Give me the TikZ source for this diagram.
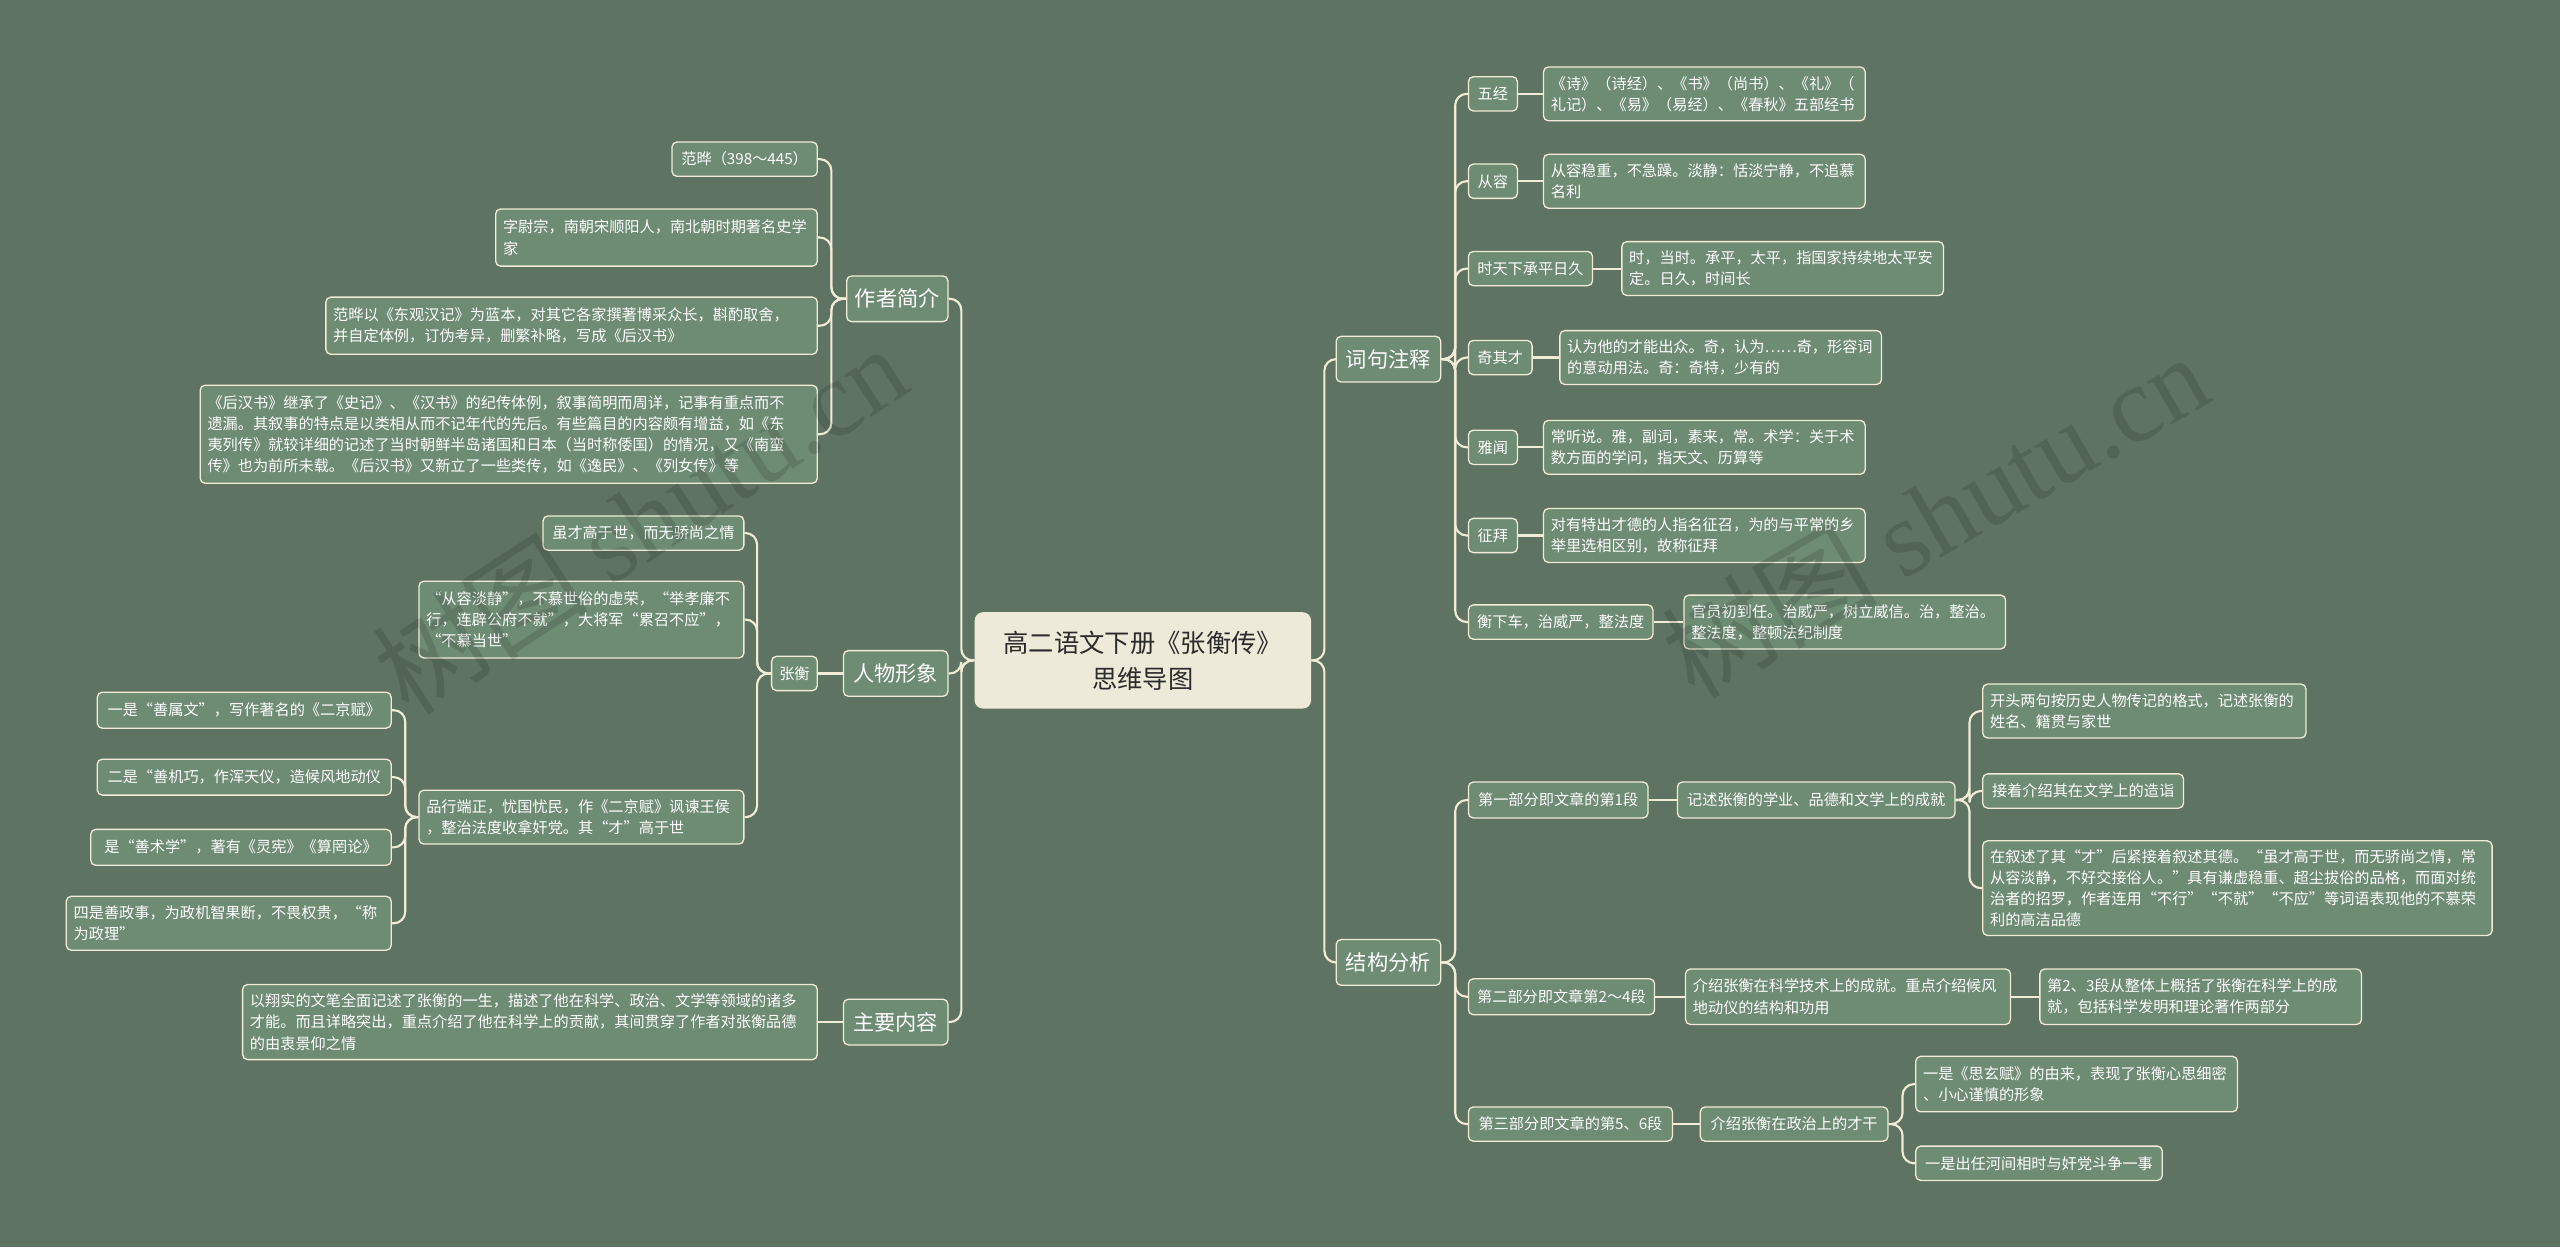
\documentclass[tikz,border=0pt]{standalone}
\usepackage{fontspec}
\setmainfont{Noto Sans CJK SC}
\newfontfamily\wmfont{Liberation Serif}
\definecolor{bgC}{HTML}{5F7363}
\definecolor{nodeC}{HTML}{6E8B73}
\definecolor{lineC}{HTML}{F0ECD8}
\definecolor{rootC}{HTML}{EEEADA}
\definecolor{rootT}{HTML}{2B2B2B}
\tikzset{
  box/.style={draw=lineC, fill=nodeC, line width=0.8pt, rounded corners=3pt, text=white,
    align=left, inner xsep=4.5pt, inner ysep=2pt, font=\fontsize{9.3}{13}\selectfont},
  sbox/.style={box, align=center},
  big/.style={box, align=center, font=\fontsize{13}{16}\selectfont, minimum height=28pt},
  rootbox/.style={fill=rootC, draw=none, rounded corners=5pt, text=rootT, align=center,
    font=\fontsize{15.5}{22}\selectfont, minimum width=206pt, minimum height=59pt},
  conn/.style={draw=lineC, line width=1.3pt, rounded corners=7pt},
  wm/.style={text=black, opacity=0.13, font=\fontsize{66}{70}\selectfont}
}
\begin{document}
\begin{tikzpicture}[x=1pt,y=1pt]
\fill[bgC] (0,0) rectangle (1568,764);
\useasboundingbox (0,0) rectangle (1568,764);

% root
\node[rootbox] (root) at (700,359.5) {高二语文下册《张衡传》\\思维导图};

% level 1
\node[big, anchor=east, minimum width=62pt] (zz) at (581,581) {作者简介};
\node[big, anchor=east, minimum width=64pt] (rw) at (581,351.5) {人物形象};
\node[big, anchor=east, minimum width=64pt] (zy) at (581,138) {主要内容};
\node[big, anchor=west, minimum width=64pt] (cj) at (818,544) {词句注释};
\node[big, anchor=west, minimum width=64pt] (jg) at (818,174.5) {结构分析};

% author
\node[sbox, anchor=east, minimum width=89pt, minimum height=21pt] (a1) at (501,666.5) {范晔（398～445）};
\node[box, anchor=east, text width=188pt, minimum height=35pt] (a2) at (501,618.5) {字尉宗，南朝宋顺阳人，南北朝时期著名史学\\家};
\node[box, anchor=east, text width=292pt, minimum height=35pt] (a3) at (501,564.5) {范晔以《东观汉记》为蓝本，对其它各家撰著博采众长，斟酌取舍，\\并自定体例，订伪考异，删繁补略，写成《后汉书》};
\node[box, anchor=east, text width=369pt, minimum height=60pt] (a4) at (501,498) {《后汉书》继承了《史记》、《汉书》的纪传体例，叙事简明而周详，记事有重点而不\\遗漏。其叙事的特点是以类相从而不记年代的先后。有些篇目的内容颇有增益，如《东\\夷列传》就较详细的记述了当时朝鲜半岛诸国和日本（当时称倭国）的情况，又《南蛮\\传》也为前所未载。《后汉书》又新立了一些类传，如《逸民》、《列女传》等};

% character
\node[sbox, anchor=east, minimum width=28pt, minimum height=21pt] (zh) at (501,351.5) {张衡};
\node[sbox, anchor=east, minimum width=123pt, minimum height=21pt] (z1) at (456,437.5) {虽才高于世，而无骄尚之情};
\node[box, anchor=east, text width=190pt, minimum height=47pt] (z2) at (456,384.5) {“从容淡静”，不慕世俗的虚荣，“举孝廉不\\行，连辟公府不就”，大将军“累召不应”，\\“不慕当世”};
\node[box, anchor=east, text width=190pt, minimum height=33pt] (z3) at (456,263.5) {品行端正，忧国忧民，作《二京赋》讽谏王侯\\，整治法度收拿奸党。其“才”高于世};
\node[sbox, anchor=east, minimum width=180pt, minimum height=22pt] (p1) at (240,329) {一是“善属文”，写作著名的《二京赋》};
\node[sbox, anchor=east, minimum width=180pt, minimum height=22pt] (p2) at (240,288) {二是“善机巧，作浑天仪，造候风地动仪};
\node[sbox, anchor=east, minimum width=184pt, minimum height=22pt] (p3) at (240,245) {是“善术学”，著有《灵宪》《算罔论》};
\node[box, anchor=east, text width=190pt, minimum height=33pt] (p4) at (240,198.5) {四是善政事，为政机智果断，不畏权贵，“称\\为政理”};

% main content
\node[box, anchor=east, text width=343pt, minimum height=46pt] (m1) at (501,138) {以翔实的文笔全面记述了张衡的一生，描述了他在科学、政治、文学等领域的诸多\\才能。而且详略突出，重点介绍了他在科学上的贡献，其间贯穿了作者对张衡品德\\的由衷景仰之情};

% notes
\node[sbox, anchor=west, minimum width=30pt, minimum height=21pt] (w1) at (899,706.5) {五经};
\node[box, anchor=west, text width=188pt, minimum height=33pt] (l1) at (945,706.5) {《诗》（诗经）、《书》（尚书）、《礼》（\\礼记）、《易》（易经）、《春秋》五部经书};
\node[sbox, anchor=west, minimum width=30pt, minimum height=21pt] (w2) at (899,653) {从容};
\node[box, anchor=west, text width=188pt, minimum height=33pt] (l2) at (945,653) {从容稳重，不急躁。淡静：恬淡宁静，不追慕\\名利};
\node[sbox, anchor=west, minimum width=76pt, minimum height=21pt] (w3) at (899,599.5) {时天下承平日久};
\node[box, anchor=west, text width=188pt, minimum height=33pt] (l3) at (993,599.5) {时，当时。承平，太平，指国家持续地太平安\\定。日久，时间长};
\node[sbox, anchor=west, minimum width=39pt, minimum height=21pt] (w4) at (899,545) {奇其才};
\node[box, anchor=west, text width=188pt, minimum height=33pt] (l4) at (955,545) {认为他的才能出众。奇，认为……奇，形容词\\的意动用法。奇：奇特，少有的};
\node[sbox, anchor=west, minimum width=30pt, minimum height=21pt] (w5) at (899,490) {雅闻};
\node[box, anchor=west, text width=188pt, minimum height=33pt] (l5) at (945,490) {常听说。雅，副词，素来，常。术学：关于术\\数方面的学问，指天文、历算等};
\node[sbox, anchor=west, minimum width=30pt, minimum height=21pt] (w6) at (899,436) {征拜};
\node[box, anchor=west, text width=188pt, minimum height=33pt] (l6) at (945,436) {对有特出才德的人指名征召，为的与平常的乡\\举里选相区别，故称征拜};
\node[sbox, anchor=west, minimum width=113pt, minimum height=21pt] (w7) at (899,383) {衡下车，治威严，整法度};
\node[box, anchor=west, text width=188pt, minimum height=33pt] (l7) at (1031,383) {官员初到任。治威严，树立威信。治，整治。\\整法度，整顿法纪制度};

% structure
\node[sbox, anchor=west, minimum width=110pt, minimum height=22pt] (s1) at (899,274) {第一部分即文章的第1段};
\node[sbox, anchor=west, minimum width=170pt, minimum height=22pt] (s1a) at (1027,274) {记述张衡的学业、品德和文学上的成就};
\node[box, anchor=west, text width=189pt, minimum height=33pt] (t1) at (1214,328.5) {开头两句按历史人物传记的格式，记述张衡的\\姓名、籍贯与家世};
\node[sbox, anchor=west, minimum width=123pt, minimum height=21pt] (t2) at (1214,279.5) {接着介绍其在文学上的造诣};
\node[box, anchor=west, text width=303pt, minimum height=58pt] (t3) at (1214,220) {在叙述了其“才”后紧接着叙述其德。“虽才高于世，而无骄尚之情，常\\从容淡静，不好交接俗人。”具有谦虚稳重、超尘拔俗的品格，而面对统\\治者的招罗，作者连用“不行”“不就”“不应”等词语表现他的不慕荣\\利的高洁品德};
\node[sbox, anchor=west, minimum width=114pt, minimum height=22pt] (s2) at (899,153.5) {第二部分即文章第2～4段};
\node[box, anchor=west, text width=190pt, minimum height=34pt] (s2a) at (1032,153.5) {介绍张衡在科学技术上的成就。重点介绍候风\\地动仪的结构和功用};
\node[box, anchor=west, text width=188pt, minimum height=34pt] (s2b) at (1249,153.5) {第2、3段从整体上概括了张衡在科学上的成\\就，包括科学发明和理论著作两部分};
\node[sbox, anchor=west, minimum width=125pt, minimum height=21pt] (s3) at (899,75.5) {第三部分即文章的第5、6段};
\node[sbox, anchor=west, minimum width=115pt, minimum height=21pt] (s3a) at (1041,75.5) {介绍张衡在政治上的才干};
\node[box, anchor=west, text width=188pt, minimum height=34pt] (u1) at (1173,100) {一是《思玄赋》的由来，表现了张衡心思细密\\、小心谨慎的形象};
\node[sbox, anchor=west, minimum width=151pt, minimum height=21pt] (u2) at (1173,51.5) {一是出任河间相时与奸党斗争一事};

% connectors
\foreach \c in {zz,rw,zy} \draw[conn] (root.west) -- ++(-8,0) |- (\c.east);
\foreach \c in {cj,jg} \draw[conn] (root.east) -- ++(8,0) |- (\c.west);
\foreach \c in {a1,a2,a3,a4} \draw[conn] (zz.west) -- ++(-9,0) |- (\c.east);
\draw[conn] (rw.west) -- (rw.west -| zh.east);
\foreach \c in {z1,z2,z3} \draw[conn] (zh.west) -- ++(-8.5,0) |- (\c.east);
\foreach \c in {p1,p2,p3,p4} \draw[conn] (z3.west) -- ++(-8,0) |- (\c.east);
\draw[conn] (zy.west) -- (zy.west -| m1.east);
\foreach \c in {w1,w2,w3,w4,w5,w6,w7} \draw[conn] (cj.east) -- ++(8.5,0) |- (\c.west);
\foreach \i in {1,...,7} \draw[conn] (w\i.east) -- (w\i.east -| l\i.west);
\foreach \c in {s1,s2,s3} \draw[conn] (jg.east) -- ++(8.5,0) |- (\c.west);
\draw[conn] (s1.east) -- (s1.east -| s1a.west);
\foreach \c in {t1,t2,t3} \draw[conn] (s1a.east) -- ++(8.5,0) |- (\c.west);
\draw[conn] (s2.east) -- (s2.east -| s2a.west);
\draw[conn] (s2a.east) -- (s2a.east -| s2b.west);
\draw[conn] (s3.east) -- (s3.east -| s3a.west);
\foreach \c in {u1,u2} \draw[conn] (s3a.east) -- ++(8.5,0) |- (\c.west);

% watermarks
\node[wm, rotate=33] (wm1) at (392,446) {树图 {\wmfont shutu.cn}};
\node[wm, rotate=30] (wm2) at (1185,449) {树图 {\wmfont shutu.cn}};
\end{tikzpicture}
\end{document}
